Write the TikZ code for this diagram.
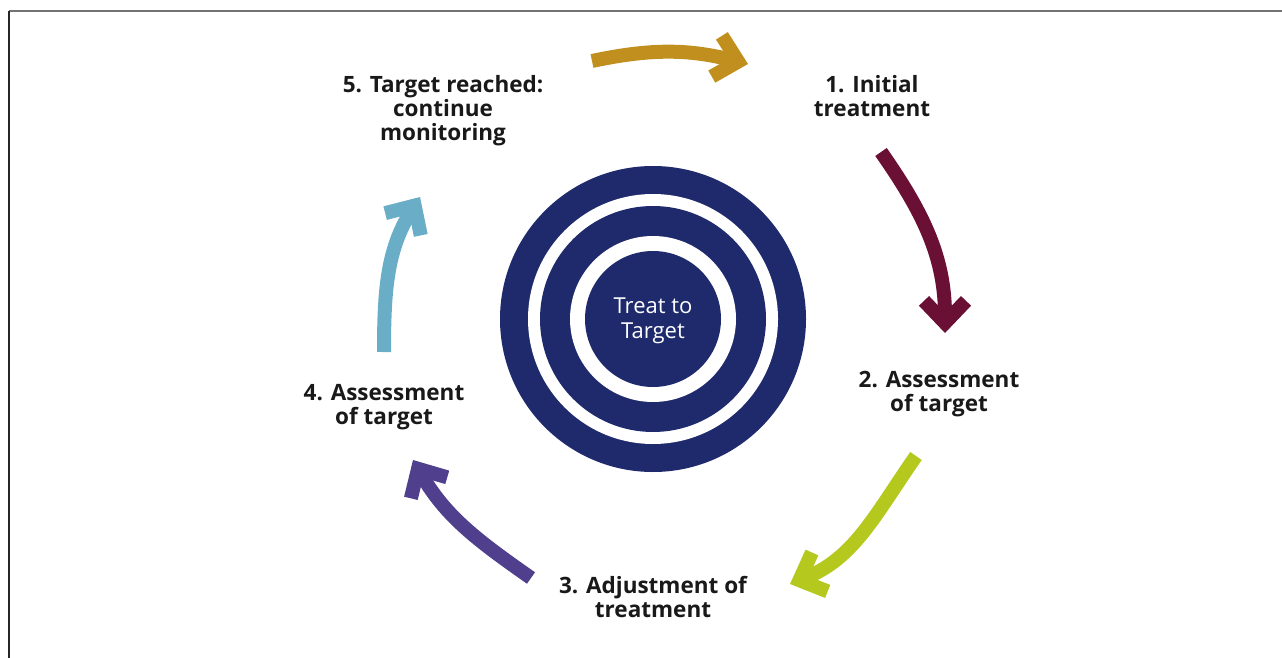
\documentclass[tikz,border=0pt]{standalone}
\usepackage{fontspec}
\setmainfont{Open Sans}
\usetikzlibrary{arrows.meta,positioning}
\definecolor{navy}{HTML}{1E2A6C}
\definecolor{gold}{HTML}{C18F1E}
\definecolor{wine}{HTML}{6B1035}
\definecolor{lime}{HTML}{B4C81E}
\definecolor{grape}{HTML}{4F3F8D}
\definecolor{sky}{HTML}{6AADC6}
\tikzset{
  steplabel/.style={font=\fontsize{22.5}{24}\selectfont\bfseries,align=center,text=black!90,inner sep=0pt},
  corelabel/.style={font=\fontsize{22}{25}\selectfont,align=center,text=white,inner sep=0pt},
  cyclearrow/.style={line width=14pt,-{Straight Barb[length=22pt,width=42pt]}}}

\begin{document}
\begin{tikzpicture}[x=1pt,y=1pt]
\useasboundingbox (0,0) rectangle (1282,-658);
% frame
\draw[black!55,line width=2pt] (9,-11) -- (1282,-11);
\draw[black!85,line width=1.5pt] (9,-11) -- (9,-658);

% target rings
\foreach \r/\c in {153/navy,125/white,113/navy,83/white,68/navy}
  \fill[\c] (653,-319) circle (\r);
\node[corelabel] (core) at (653,-321) {Treat to\\Target};

% steps
\node[steplabel] (s1) at (872,-96) {1. Initial\\treatment};
\node[steplabel] (s2) at (939,-394) {2. Assessment\\of target};
\node[steplabel] (s3) at (653,-597) {3. Adjustment of\\treatment};
\node[steplabel] (s4) at (384,-407) {4. Assessment\\of target};
\node[steplabel] (s5) at (443,-111) {5. Target reached:\\continue\\monitoring};

% arrow ends
\coordinate (a1s) at (592,-61);  \coordinate (a1e) at (748,-64);
\coordinate (a2s) at (881,-152); \coordinate (a2e) at (945,-333);
\coordinate (a3s) at (916,-456); \coordinate (a3e) at (790,-584);
\coordinate (a4s) at (531,-578); \coordinate (a4e) at (413,-460);
\coordinate (a5s) at (384,-352); \coordinate (a5e) at (420,-197);

\foreach \n/\o/\i/\c in {1/12/166/gold,2/-55/90/wine,3/235/22/lime,4/145/-60/grape,5/90/-122/sky}
  \draw[cyclearrow,\c] (a\n s) to[out=\o,in=\i] (a\n e);
\end{tikzpicture}
\end{document}
